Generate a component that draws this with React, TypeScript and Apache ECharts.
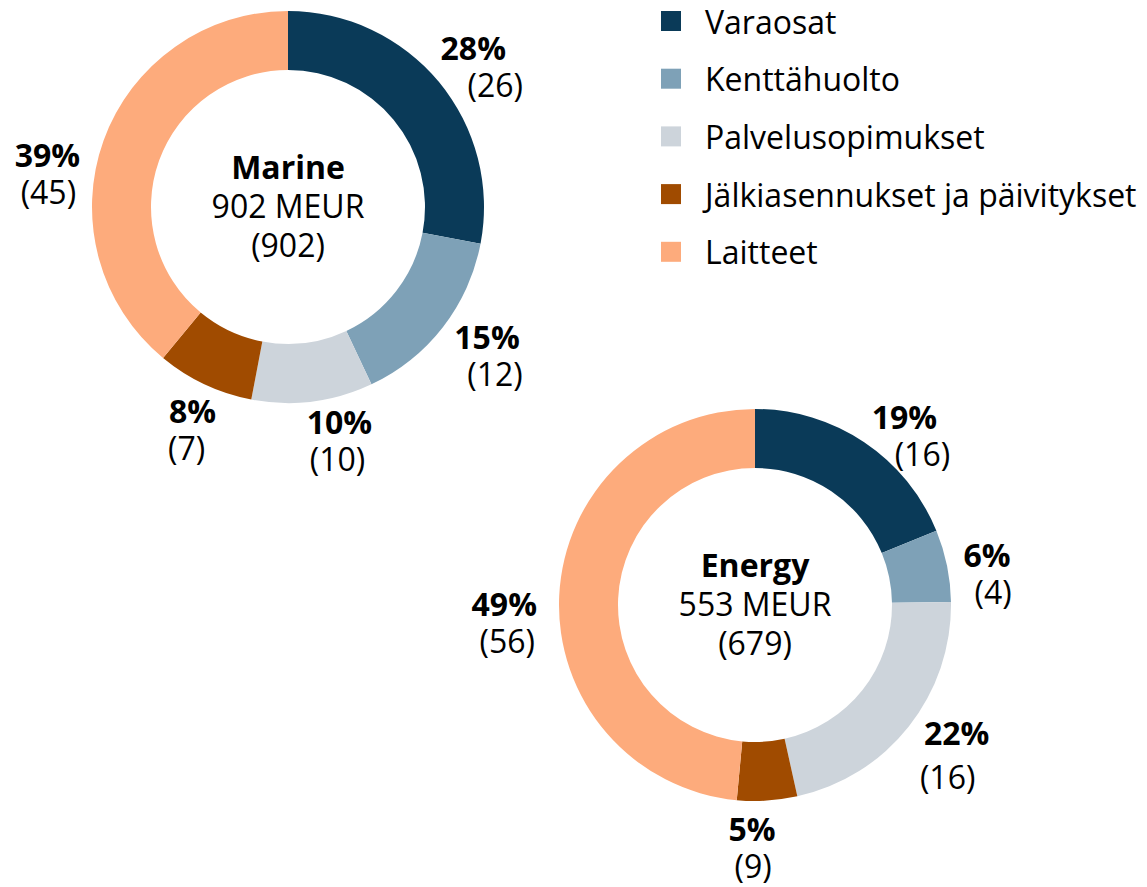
import React, { useEffect, useRef } from "react";
import * as echarts from "echarts";

const categories = [
  "Varaosat",
  "Kenttähuolto",
  "Palvelusopimukset",
  "Jälkiasennukset ja päivitykset",
  "Laitteet",
];
const colors = ["#0a3a58", "#7ea1b7", "#cdd4db", "#a04b00", "#fdab7c"];

const marinePct = [28, 15, 10, 8, 39];
const marinePrev = [26, 12, 10, 7, 45];
const energyPct = [19, 6, 22, 5, 49];
const energyPrev = [16, 4, 16, 9, 56];

const marineTitle = ["Marine", "902 MEUR", "(902)"];
const energyTitle = ["Energy", "553 MEUR", "(679)"];

// label placement tweaks (layout only): [dx, dy, shift of 2nd line, extra line gap]
const marineLabelTweak = [
  [-2, 14, 22, 0],
  [7, -1, 8, 0],
  [21, -8, -2, 0],
  [8, 2, -6, 0],
  [-12, 48, 1, 0],
];
const energyLabelTweak = [
  [14, 32, 18, 0],
  [-6, 17, 6, 0],
  [11, 2, -9, 7],
  [-18, -1, 1, 0],
  [-8, 28, 3, 0],
];

const FONT = "'Open Sans', 'Noto Sans', sans-serif";
const FS = 32;
const LH = 37;

export default function App() {
  const ref = useRef<HTMLDivElement>(null);

  useEffect(() => {
    if (!ref.current) return;
    const chart = echarts.init(ref.current, undefined, { renderer: "svg" });

    const marineCenter = [288, 207];
    const energyCenter = [755, 605];
    const ring = [137, 196];
    const labelRing = [215, 265];

    const mainPie = (center: number[], pct: number[]) => ({
      type: "pie",
      center,
      radius: ring,
      startAngle: 90,
      clockwise: true,
      silent: true,
      label: { show: false },
      labelLine: { show: false },
      data: pct.map((v, i) => ({
        name: categories[i],
        value: v,
        itemStyle: { color: colors[i] },
      })),
    });

    const labelPie = (
      center: number[],
      pct: number[],
      prev: number[],
      tweak: number[][]
    ) => {
      const rich: any = {
        p: {
          fontFamily: FONT,
          fontSize: FS,
          fontWeight: "bold",
          color: "#000",
          lineHeight: LH,
          align: "center",
        },
      };
      tweak.forEach((t, i) => {
        const s = t[2];
        rich["v" + i] = {
          fontFamily: FONT,
          fontSize: FS,
          fontWeight: "normal",
          color: "#000",
          lineHeight: LH + 2 * t[3],
          align: "center",
          padding: s >= 0 ? [0, 0, 0, 2 * s] : [0, -2 * s, 0, 0],
        };
      });
      return {
        type: "pie",
        center,
        radius: labelRing,
        startAngle: 90,
        clockwise: true,
        silent: true,
        itemStyle: { color: "rgba(0,0,0,0)" },
        label: {
          show: true,
          position: "inside",
          fontFamily: FONT,
          formatter: (p: any) =>
            `{p|${pct[p.dataIndex]}%}\n{v${p.dataIndex}|(${prev[p.dataIndex]})}`,
          rich,
        },
        labelLayout: (params: any) => {
          const t = tweak[params.dataIndex];
          return { dx: t[0], dy: t[1] };
        },
        labelLine: { show: false },
        data: pct.map((v, i) => ({ name: categories[i], value: v })),
      };
    };

    const centerTitle = (center: number[], t: string[]) => ({
      left: center[0],
      top: center[1] - 2,
      padding: 0,
      textAlign: "center",
      textVerticalAlign: "middle",
      text: `{b|${t[0]}}\n{n|${t[1]}}\n{n|${t[2]}}`,
      textStyle: {
        fontFamily: FONT,
        fontWeight: "normal",
        rich: {
          b: {
            fontFamily: FONT,
            fontSize: FS,
            fontWeight: "bold",
            color: "#000",
            lineHeight: 39,
            align: "center",
          },
          n: {
            fontFamily: FONT,
            fontSize: FS,
            fontWeight: "normal",
            color: "#000",
            lineHeight: 39,
            align: "center",
          },
        },
      },
    });

    chart.setOption({
      animation: false,
      backgroundColor: "#ffffff",
      title: [
        centerTitle(marineCenter, marineTitle),
        centerTitle(energyCenter, energyTitle),
      ],
      legend: {
        orient: "vertical",
        left: 661,
        top: 5,
        padding: 0,
        itemWidth: 20,
        itemHeight: 20,
        itemGap: 25.7,
        icon: "rect",
        selectedMode: false,
        data: categories,
        textStyle: {
          fontFamily: FONT,
          fontSize: FS,
          color: "#000",
          padding: [0, 0, 0, 19],
        },
      },
      series: [
        mainPie(marineCenter, marinePct),
        mainPie(energyCenter, energyPct),
        labelPie(marineCenter, marinePct, marinePrev, marineLabelTweak),
        labelPie(energyCenter, energyPct, energyPrev, energyLabelTweak),
      ],
    });

    return () => chart.dispose();
  }, []);

  return (
    <div
      ref={ref}
      style={{ position: "fixed", left: 0, top: 0, width: 1147, height: 887 }}
    />
  );
}
